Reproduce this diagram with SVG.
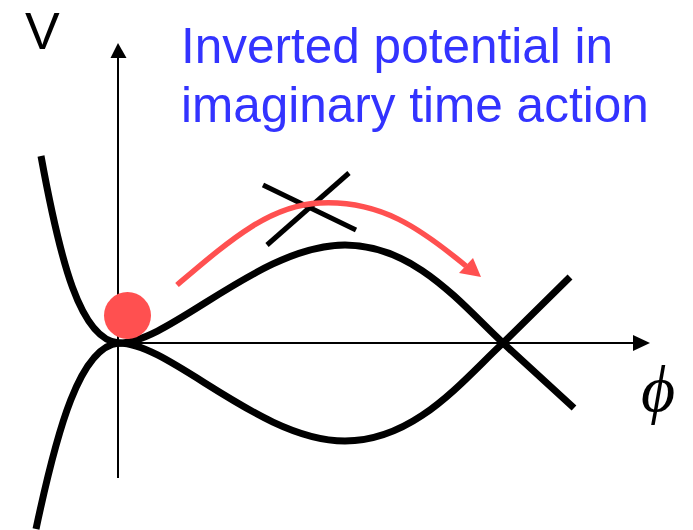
<svg xmlns="http://www.w3.org/2000/svg" width="693" height="530" viewBox="0 0 693 530">
  <style>
    .curve { fill: none; stroke: #000; stroke-width: 7; stroke-linejoin: round; }
    .axis { fill: none; stroke: #000; stroke-width: 2; }
    .cross { fill: none; stroke: #000; stroke-width: 5; }
    .title { font-family: "Liberation Sans", Arial, sans-serif; font-size: 49.5px; fill: #3333FF; }
    .lbl { font-family: "Liberation Sans", Arial, sans-serif; font-size: 52px; fill: #000; }
    .phi { font-family: "Liberation Serif", "DejaVu Serif", serif; font-style: italic; font-size: 66px; fill: #000; }
  </style>
  <rect width="693" height="530" fill="#fff"/>
  <g id="axes">
    <line class="axis" x1="118" y1="478" x2="118" y2="56"/>
    <polygon points="118,43 110.5,58 126.5,58" fill="#000"/>
    <line class="axis" x1="118" y1="343" x2="636" y2="343"/>
    <polygon points="650,343 633,335 633,351" fill="#000"/>
  </g>
  <g id="labels">
    <text class="lbl" x="25" y="49">V</text>
    <text class="phi" x="641" y="411">ϕ</text>
    <text class="title" x="181" y="63">Inverted potential in</text>
    <text class="title" x="181" y="122">imaginary time action</text>
  </g>
  <g id="potential-upper">
    <path class="curve" d="M41,156 C60,260 80,340 119,343 C170,343 260,245 345,245 C415,245 462,305 503,343 L574,408"/>
  </g>
  <g id="potential-lower">
    <path class="curve" d="M36,529 C57,430 80,346 119,343 C170,343 260,441 345,441 C415,441 462,381 503,343 L570,277"/>
  </g>
  <g id="ball">
    <circle cx="127.5" cy="315.5" r="23.5" fill="#FF5050"/>
  </g>
  <g id="crossed-path">
    <line class="cross" x1="263" y1="185" x2="356" y2="230"/>
    <line class="cross" x1="349" y1="173" x2="267" y2="245"/>
  </g>
  <g id="connectors">
    <path d="M177,285 C230,240 270,205 320,203 C380,200 420,228 466,266" fill="none" stroke="#FF5050" stroke-width="5.5"/>
    <polygon points="481,277 459,273 473,258" fill="#FF5050"/>
  </g>
</svg>
